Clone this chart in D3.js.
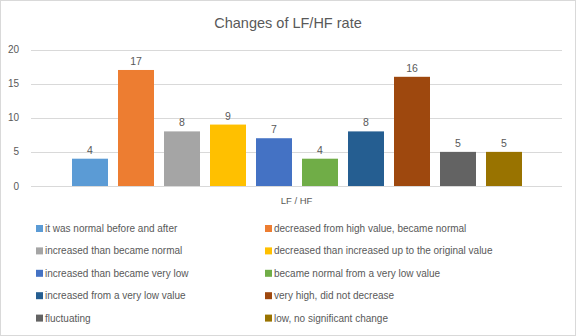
<!DOCTYPE html>
<html lang="en">
<head>
<meta charset="utf-8">
<style>
	body { margin: 0; background: #fff; }
	text { font-family: "Liberation Sans", Arial, sans-serif; fill: #595959; }
</style>
</head>
<body>
<script src="https://cdn.jsdelivr.net/npm/d3@7"></script>
<script>
// one category, ten series
var category = "LF / HF";
var series = [
	"it was normal before and after",
	"decreased from high value, became normal",
	"increased than became normal",
	"decreased than increased up to the original value",
	"increased than became very low",
	"became normal from a very low value",
	"increased from a very low value",
	"very high, did not decrease",
	"fluctuating",
	"low, no significant change"
];
var values = [4, 17, 8, 9, 7, 4, 8, 16, 5, 5];
var colors = ["#5B9BD5", "#ED7D31", "#A5A5A5", "#FFC000", "#4472C4",
	"#70AD47", "#255E91", "#9E480E", "#636363", "#997300"];
var yTicks = [0, 5, 10, 15, 20];

var width = 576, height = 336;
var svg = d3.select("body").append("svg")
	.attr("width", width)
	.attr("height", height);

svg.append("rect")
	.attr("x", 0.5).attr("y", 0.5)
	.attr("width", width - 1).attr("height", height - 1)
	.attr("fill", "#fff")
	.attr("stroke", "#d9d9d9");

svg.append("text")
	.attr("x", 288).attr("y", 28)
	.attr("text-anchor", "middle")
	.style("font-size", "14.5px")
	.text("Changes of LF/HF rate");

var plotLeft = 31, plotRight = 562;
var y = d3.scaleLinear().domain([0, 20]).range([186, 49.5]);
var x = d3.scaleBand().domain(series).range([72, 522]).paddingInner(10 / 46);

// gridlines + tick labels
var grid = svg.append("g");
grid.selectAll("line").data(yTicks).enter().append("line")
	.attr("x1", plotLeft).attr("x2", plotRight)
	.attr("y1", function (d) { return Math.round(y(d)) + 0.5; })
	.attr("y2", function (d) { return Math.round(y(d)) + 0.5; })
	.attr("stroke", "#d9d9d9");
grid.selectAll("text").data(yTicks).enter().append("text")
	.attr("x", 19).attr("y", function (d) { return y(d) + 3.5; })
	.attr("text-anchor", "end")
	.style("font-size", "10px")
	.text(function (d) { return d; });

var data = series.map(function (s, i) { return { name: s, value: values[i], color: colors[i] }; });

svg.append("g").selectAll("rect").data(data).enter().append("rect")
	.attr("x", function (d) { return x(d.name); })
	.attr("y", function (d) { return y(d.value); })
	.attr("width", x.bandwidth())
	.attr("height", function (d) { return y(0) - y(d.value); })
	.attr("fill", function (d) { return d.color; });

svg.append("g").selectAll("text").data(data).enter().append("text")
	.attr("x", function (d) { return x(d.name) + x.bandwidth() / 2; })
	.attr("y", function (d) { return y(d.value) - 5; })
	.attr("text-anchor", "middle")
	.style("font-size", "10.5px")
	.text(function (d) { return d.value; });

svg.append("text")
	.attr("x", (plotLeft + plotRight) / 2).attr("y", 204)
	.attr("text-anchor", "middle")
	.style("font-size", "9.5px")
	.text(category);

// legend, two columns
var legend = svg.append("g").selectAll("g").data(data).enter().append("g")
	.attr("transform", function (d, i) {
		return "translate(" + (i % 2 ? 265 : 36) + "," + (228.5 + Math.floor(i / 2) * 22.4) + ")";
	});
legend.append("rect")
	.attr("x", 0).attr("y", -3.5)
	.attr("width", 7).attr("height", 7)
	.attr("fill", function (d) { return d.color; });
legend.append("text")
	.attr("x", 9).attr("y", 3.5)
	.style("font-size", "10px")
	.text(function (d) { return d.name; });
</script>
</body>
</html>
